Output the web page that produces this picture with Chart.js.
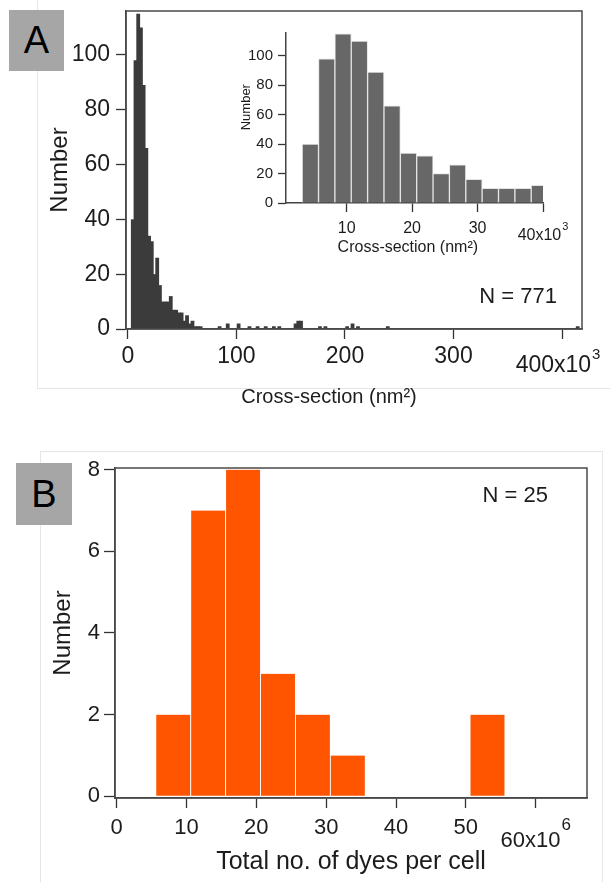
<!DOCTYPE html>
<html>
<head>
<meta charset="utf-8">
<script src="https://cdn.jsdelivr.net/npm/chart.js@4.4.1/dist/chart.umd.min.js"></script>
<style>
	body {
		margin: 0;
		width: 610px;
		height: 882px;
		background: #fff;
		position: relative;
		overflow: hidden;
		font-family: "Liberation Sans", Arial, sans-serif;
	}
	canvas { position: absolute; }
	.panel { position: absolute; border: 1px solid #e6e6e6; }
	.tag {
		position: absolute;
		background: #a6a6a6;
		color: #000;
		font-size: 38px;
		text-align: center;
	}
</style>
</head>
<body>
<div class="panel" style="left:37px; top:-2px; width:580px; height:390px; border-top:none; border-right:none;"></div>
<div class="panel" style="left:40px; top:451px; width:561px; height:440px;"></div>
<div class="tag" style="left:9px; top:10px; width:55px; height:61px; line-height:61px;">A</div>
<div class="tag" style="left:16px; top:463px; width:56px; height:62px; line-height:62px;">B</div>

<canvas id="chartA" width="610" height="420" style="left:0; top:0;"></canvas>
<canvas id="inset" width="360" height="250" style="left:230px; top:20px;"></canvas>
<canvas id="chartB" width="610" height="442" style="left:0; top:440px;"></canvas>

<script>
const FONT = '"Liberation Sans", Arial, sans-serif';
const INK = '#1c1c1c';

// panel A: histogram bins (centre, x10^3 nm^2) and counts
const crossSection = [
	4.45, 6.95, 9.45, 11.95, 14.45, 16.95, 19.45, 21.95, 24.45, 26.95,
	29.45, 31.95, 34.45, 36.95, 39.45, 41.95, 44.45, 46.95, 49.45, 51.95,
	54.45, 56.95, 59.45, 61.95, 64.45, 66.95,
	84.45, 91.95, 101.95, 111.95, 119.45, 126.95, 134.45, 139.45,
	154.45, 156.95, 159.45, 176.95, 181.95, 201.95, 206.95, 211.95,
	239.45, 414.45
];
const crossCounts = [
	40, 98, 115, 110, 89, 66, 34, 32, 20, 26,
	16, 10, 10, 10, 12, 7, 7, 6, 6, 3,
	5, 2, 3, 1, 1, 1,
	1, 2, 2, 1, 1, 1, 1, 1,
	2, 3, 3, 1, 1, 1, 2, 1,
	1, 1
];
const INSET_BINS = 15; // the inset zooms on the first 15 bins
const crossTicks = [0, 100, 200, 300, 400];
const countTicksA = [0, 20, 40, 60, 80, 100];
const insetTicksX = [10, 20, 30, 40];
const insetTicksY = [0, 20, 40, 60, 80, 100];

// panel B: total dyes per cell (centre, x10^6) and counts
const dyes = [8.1, 13.1, 18.1, 23.1, 28.1, 33.1, 38.1, 43.1, 48.1, 53.1];
const dyeCounts = [2, 7, 8, 3, 2, 1, 0, 0, 0, 2];
const dyeTicksX = [0, 10, 20, 30, 40, 50, 60];
const dyeTicksY = [0, 2, 4, 6, 8];

function fixedTicks(values) {
	return scale => { scale.ticks = values.map(v => ({ value: v })); };
}

function fixSize(prop, size) {
	return scale => {
		scale[prop] = size;
		scale.paddingLeft = scale.paddingRight = scale.paddingTop = scale.paddingBottom = 0;
	};
}

function font(size) {
	return { family: FONT, size: size };
}

// box round the plot area
const frame = {
	id: 'frame',
	afterDraw(chart, args, opts) {
		const { ctx, chartArea: a } = chart;
		ctx.save();
		ctx.strokeStyle = opts.color || '#444';
		ctx.lineWidth = opts.width || 1.5;
		ctx.strokeRect(a.left, a.top, a.right - a.left, a.bottom - a.top);
		ctx.restore();
	}
};

// last tick label with exponent, e.g. 400x10^3
const expLabel = {
	id: 'expLabel',
	afterDraw(chart, args, opts) {
		if (!opts.text) return;
		const { ctx } = chart;
		const px = chart.scales.x.getPixelForValue(opts.value) + (opts.dx || 0);
		ctx.save();
		ctx.fillStyle = INK;
		ctx.textBaseline = 'alphabetic';
		ctx.textAlign = 'left';
		ctx.font = `${opts.size}px ${FONT}`;
		const w1 = ctx.measureText(opts.text).width;
		ctx.font = `${opts.supSize}px ${FONT}`;
		const w2 = ctx.measureText(opts.sup).width;
		const left = px - (w1 + w2 + 1) / 2;
		ctx.font = `${opts.size}px ${FONT}`;
		ctx.fillText(opts.text, left, opts.y);
		ctx.font = `${opts.supSize}px ${FONT}`;
		ctx.fillText(opts.sup, left + w1 + 1, opts.y - opts.rise);
		ctx.restore();
	}
};

// "N = ..." note, placed from the plot area corner
const note = {
	id: 'note',
	afterDraw(chart, args, opts) {
		if (!opts.text) return;
		const { ctx, chartArea: a } = chart;
		ctx.save();
		ctx.fillStyle = INK;
		ctx.font = `${opts.size}px ${FONT}`;
		ctx.textAlign = 'right';
		ctx.textBaseline = 'alphabetic';
		const y = opts.fromTop != null ? a.top + opts.fromTop : a.bottom - opts.fromBottom;
		ctx.fillText(opts.text, a.right - opts.fromRight, y);
		ctx.restore();
	}
};

function xAxis(o) {
	return {
		type: 'linear',
		min: o.min,
		max: o.max,
		offset: false,
		afterBuildTicks: fixedTicks(o.ticks),
		afterFit: fixSize('height', o.height),
		ticks: {
			font: font(o.tickSize),
			color: INK,
			padding: o.tickPad,
			maxRotation: 0,
			autoSkip: false,
			callback: v => (v === o.ticks[o.ticks.length - 1] ? '' : String(v))
		},
		grid: { offset: false, drawOnChartArea: false, tickLength: o.tickLength, tickColor: '#333', tickWidth: 1.3 },
		border: { color: '#444', width: 1.5 },
		title: { display: true, text: o.title, font: font(o.titleSize), color: INK, padding: { top: 0, bottom: o.titlePad } }
	};
}

function yAxis(o) {
	return {
		min: o.min,
		max: o.max,
		afterBuildTicks: fixedTicks(o.ticks),
		afterFit: fixSize('width', o.width),
		ticks: { font: font(o.tickSize), color: INK, padding: o.tickPad },
		grid: { drawOnChartArea: false, tickLength: o.tickLength, tickColor: '#333', tickWidth: 1.3 },
		border: { color: '#444', width: 1.5 },
		title: { display: true, text: o.title, font: font(o.titleSize), color: INK, padding: { top: o.titlePad, bottom: 0 } }
	};
}

const common = {
	responsive: false,
	animation: false,
	events: []
};

new Chart(document.getElementById('chartA'), {
	type: 'bar',
	data: {
		datasets: [{
			data: crossSection.map((x, i) => ({ x, y: crossCounts[i] })),
			backgroundColor: '#3b3b3b',
			borderWidth: 0,
			barPercentage: 1.4,
			categoryPercentage: 1
		}]
	},
	options: {
		...common,
		layout: { padding: { top: 11, right: 28, left: 0, bottom: 0 } },
		plugins: {
			legend: { display: false },
			tooltip: { enabled: false },
			frame: { color: '#4a4a4a', width: 1.5 },
			expLabel: { value: 400, text: '400x10', sup: '3', size: 23, supSize: 15, y: 372, rise: 13, dx: -4 },
			note: { text: 'N = 771', size: 22, fromRight: 25, fromBottom: 26 }
		},
		scales: {
			// trailing spaces move the centred title left, as in the figure
			x: xAxis({ min: -1.8, max: 418.4, ticks: crossTicks, height: 91, tickSize: 23, tickPad: 4, tickLength: 10,
				title: 'Cross-section (nm²)         ', titleSize: 20, titlePad: 11 }),
			y: yAxis({ min: 0, max: 116, ticks: countTicksA, width: 126, tickSize: 23, tickPad: 6, tickLength: 10,
				title: 'Number', titleSize: 24, titlePad: 46 })
		}
	},
	plugins: [frame, expLabel, note]
});

new Chart(document.getElementById('inset'), {
	type: 'bar',
	data: {
		datasets: [{
			data: crossSection.slice(0, INSET_BINS).map((x, i) => ({ x, y: crossCounts[i] })),
			backgroundColor: '#676767',
			borderColor: '#e4e4e4',
			borderWidth: { left: 1, right: 1, top: 1 },
			borderSkipped: 'start',
			barPercentage: 1,
			categoryPercentage: 1
		}]
	},
	options: {
		...common,
		layout: { padding: { top: 13, right: 47, left: 0, bottom: 0 } },
		plugins: {
			legend: { display: false },
			tooltip: { enabled: false },
			expLabel: { value: 40, text: '40x10', sup: '3', size: 16, supSize: 11, y: 220, rise: 10 }
		},
		scales: {
			x: xAxis({ min: 0.73, max: 40, ticks: insetTicksX, height: 67, tickSize: 16, tickPad: 7, tickLength: 9,
				title: 'Cross-section (nm²)   ', titleSize: 16, titlePad: 13 }),
			y: yAxis({ min: 0, max: 115.5, ticks: insetTicksY, width: 56, tickSize: 15, tickPad: 5, tickLength: 8,
				title: '      Number', titleSize: 13, titlePad: 9 })
		}
	},
	plugins: [expLabel]
});

new Chart(document.getElementById('chartB'), {
	type: 'bar',
	data: {
		datasets: [{
			data: dyes.map((x, i) => ({ x, y: dyeCounts[i] })),
			backgroundColor: '#ff5500',
			borderColor: '#ffffff',
			borderWidth: { left: 0.8, right: 0.8, top: 0 },
			borderSkipped: 'start',
			barPercentage: 1,
			categoryPercentage: 1
		}]
	},
	options: {
		...common,
		layout: { padding: { top: 28, right: 23, left: 0, bottom: 0 } },
		plugins: {
			legend: { display: false },
			tooltip: { enabled: false },
			frame: { color: '#4a4a4a', width: 1.5 },
			expLabel: { value: 60, text: '60x10', sup: '6', size: 22, supSize: 17, y: 407, rise: 17 },
			note: { text: 'N = 25', size: 22, fromRight: 39, fromTop: 34 }
		},
		scales: {
			x: xAxis({ min: -0.24, max: 67.35, ticks: dyeTicksX, height: 84, tickSize: 22, tickPad: 7, tickLength: 10,
				title: 'Total no. of dyes per cell', titleSize: 25, titlePad: 5 }),
			y: yAxis({ min: -0.04, max: 8.04, ticks: dyeTicksY, width: 115, tickSize: 22, tickPad: 4, tickLength: 11,
				title: 'Number', titleSize: 24, titlePad: 49 })
		}
	},
	plugins: [frame, expLabel, note]
});
</script>
</body>
</html>
